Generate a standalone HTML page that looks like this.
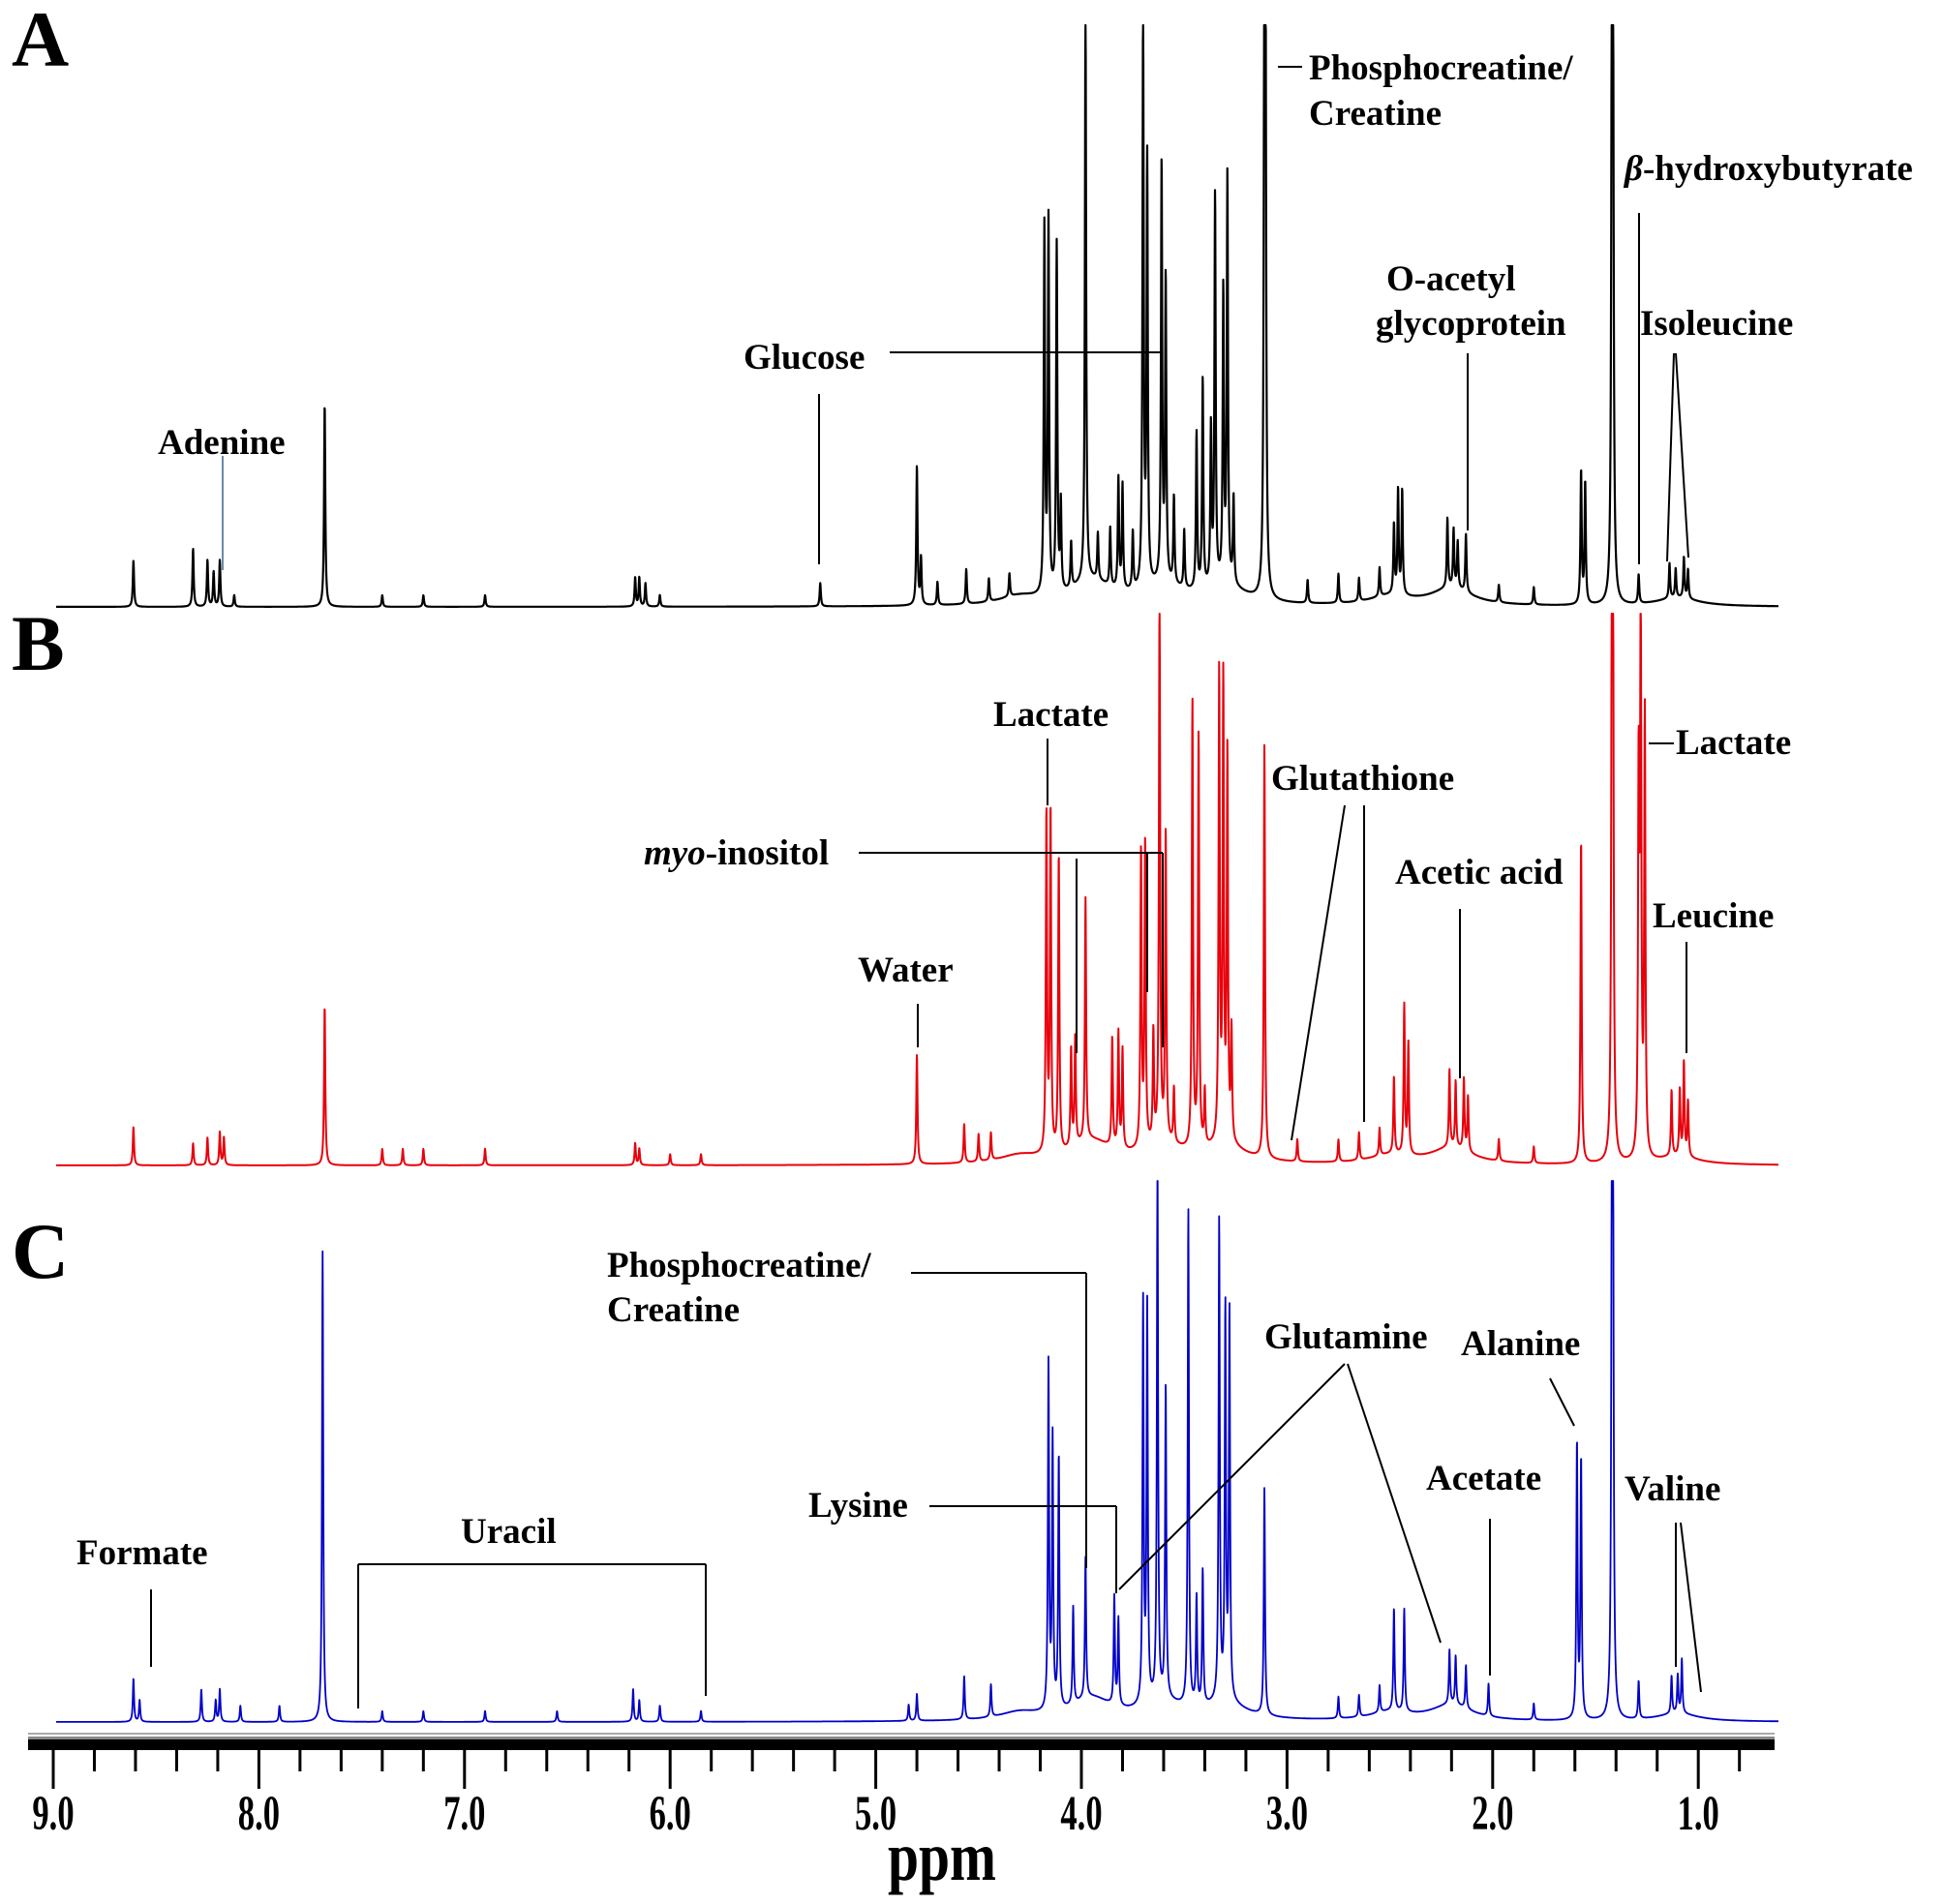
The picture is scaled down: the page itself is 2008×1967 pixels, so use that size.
<!DOCTYPE html>
<html><head><meta charset="utf-8"><style>
html,body{margin:0;padding:0;background:#fff}
svg{display:block}
text{font-family:"Liberation Serif",serif;font-weight:bold}
</style></head><body>
<svg id="fig" width="2008" height="1967" viewBox="0 0 2008 1967" xmlns="http://www.w3.org/2000/svg">
<g id="labels" font-size="38" fill="#000">
<text x="12" y="68" font-size="82">A</text>
<text x="12" y="692" font-size="82">B</text>
<text x="12" y="1320" font-size="82">C</text>
</g>
<g id="spectra"></g>
<g id="axis"></g>
<g id="ann" stroke="#000" stroke-width="2" fill="none"></g>
</svg>
<script>
// ---- data: peak positions (ppm) and relative heights (fraction of panel height) ----
const ppmA = [8.61,8.32,8.25,8.22,8.19,8.12,7.68,7.40,7.20,6.90,6.17,6.15,6.12,6.05,5.27,4.80,4.78,4.70,4.56,4.45,4.35,4.18,4.16,4.12,4.10,4.05,3.98,3.92,3.86,3.82,3.80,3.75,3.70,3.68,3.61,3.59,3.55,3.50,3.44,3.41,3.37,3.35,3.31,3.29,3.26,3.11,3.105,2.90,2.75,2.65,2.55,2.48,2.46,2.44,2.22,2.19,2.17,2.13,1.97,1.80,1.57,1.55,1.42,1.415,1.29,1.14,1.11,1.07,1.05];
const hA   = [0.08,0.10,0.08,0.06,0.08,0.02,0.35,0.02,0.02,0.02,0.05,0.05,0.04,0.02,0.04,0.24,0.08,0.04,0.06,0.04,0.04,0.63,0.64,0.60,0.15,0.08,1.0,0.08,0.10,0.19,0.18,0.10,1.0,0.73,0.72,0.52,0.15,0.10,0.27,0.36,0.27,0.67,0.50,0.70,0.15,1.0,1.0,0.04,0.05,0.04,0.05,0.12,0.18,0.18,0.12,0.10,0.08,0.10,0.03,0.03,0.23,0.21,1.0,1.0,0.05,0.06,0.05,0.07,0.05];
const ppmB = [8.61,8.32,8.25,8.19,8.17,7.68,7.40,7.30,7.20,6.90,6.17,6.15,6.00,5.85,4.80,4.57,4.50,4.44,4.17,4.15,4.11,4.05,4.03,3.98,3.85,3.82,3.80,3.71,3.69,3.65,3.62,3.59,3.55,3.46,3.43,3.40,3.33,3.31,3.29,3.27,3.11,2.95,2.75,2.65,2.55,2.48,2.43,2.41,2.21,2.18,2.14,2.12,1.97,1.80,1.57,1.42,1.415,1.29,1.28,1.26,1.13,1.09,1.07,1.05];
const hB   = [0.07,0.04,0.05,0.06,0.05,0.29,0.03,0.03,0.03,0.03,0.04,0.03,0.02,0.02,0.20,0.07,0.05,0.05,0.62,0.62,0.54,0.18,0.20,0.44,0.20,0.21,0.18,0.54,0.55,0.20,1.0,0.56,0.10,0.81,0.75,0.10,0.85,0.83,0.70,0.20,0.75,0.04,0.04,0.05,0.05,0.14,0.27,0.20,0.14,0.12,0.13,0.10,0.04,0.03,0.59,1.0,1.0,0.68,1.0,0.80,0.12,0.12,0.17,0.10];
const ppmC = [8.61,8.58,8.28,8.21,8.19,8.09,7.90,7.69,7.40,7.20,6.90,6.55,6.18,6.15,6.05,5.85,4.84,4.80,4.57,4.44,4.16,4.14,4.11,4.04,3.98,3.84,3.82,3.70,3.68,3.63,3.59,3.48,3.44,3.41,3.33,3.30,3.28,3.11,2.75,2.65,2.55,2.48,2.43,2.21,2.18,2.13,2.02,1.80,1.59,1.57,1.42,1.415,1.29,1.13,1.10,1.08];
const hC   = [0.08,0.04,0.06,0.04,0.06,0.03,0.03,0.87,0.02,0.02,0.02,0.02,0.06,0.04,0.03,0.02,0.03,0.05,0.08,0.06,0.64,0.50,0.47,0.18,0.26,0.20,0.16,0.74,0.73,1.0,0.58,0.92,0.20,0.25,0.89,0.72,0.72,0.42,0.04,0.04,0.05,0.19,0.19,0.10,0.09,0.08,0.06,0.03,0.51,0.48,1.0,1.0,0.07,0.07,0.07,0.10];
// broad background humps
const humpPpm = [4.30,3.95,3.60,3.30,2.50,2.20,1.10];
const humpH   = [0.015,0.04,0.03,0.03,0.015,0.03,0.015];

const X0=55, PX=212.4;
function xOf(p){return X0+(9-p)*PX;}
const NS='http://www.w3.org/2000/svg';
const panels=[
 {ppm:ppmA,h:hA,base:627,top:26,color:'#000',sw:2.2,name:'spectrum-a'},
 {ppm:ppmB,h:hB,base:1204,top:634,color:'#e8000b',sw:2,name:'spectrum-b'},
 {ppm:ppmC,h:hC,base:1779,top:1220,color:'#0000c8',sw:1.8,name:'spectrum-c'}
];
const g=document.getElementById('spectra');
const W=0.0035;
panels.forEach(pn=>{
  const H=pn.base-pn.top; let d='';
  for(let x=58;x<=1837;x+=0.25){
    const p=9-(x-X0)/PX; let s=0;
    for(let i=0;i<pn.ppm.length;i++){const u=(p-pn.ppm[i])/W; s+=pn.h[i]/(1+u*u);}
    for(let i=0;i<humpPpm.length;i++){const u=(p-humpPpm[i])/0.12; s+=humpH[i]/(1+u*u);}
    let y=pn.base-Math.min(s,1.0)*H;
    d+=(d?'L':'M')+x.toFixed(2)+' '+y.toFixed(1);
  }
  const path=document.createElementNS(NS,'path');
  path.setAttribute('d',d);path.setAttribute('fill','none');
  path.setAttribute('stroke',pn.color);path.setAttribute('stroke-width',pn.sw);
  path.setAttribute('stroke-linejoin','round');
  
  
  g.appendChild(path);
});
// axis
const ax=document.getElementById('axis');
const tickLabels=['9.0','8.0','7.0','6.0','5.0','4.0','3.0','2.0','1.0'];
let a='<line x1="29" y1="1791" x2="1833" y2="1791" stroke="#aaa" stroke-width="2"/>';
a+='<rect x="29" y="1797" width="1804" height="11" fill="#000"/>';
a+='<rect x="29" y="1794" width="1804" height="3" fill="#888"/>';
for(let k=0;k<=41;k++){
  const p=9.0-k*0.2; if(p<0.75) break;
  const x=xOf(p); const major=Math.abs(p-Math.round(p))<1e-6;
  a+='<line x1="'+x+'" y1="1806" x2="'+x+'" y2="'+(major?1848:1830)+'" stroke="#000" stroke-width="3"/>';
}
ax.innerHTML=a;
tickLabels.forEach(t=>{
  const tx=document.createElementNS(NS,'text');
  const x=xOf(parseFloat(t));
  tx.setAttribute('x',0);tx.setAttribute('y',0);
  tx.setAttribute('transform','translate('+x+',1890) scale(0.72,1.05)');
  tx.setAttribute('text-anchor','middle');tx.setAttribute('font-size','48');
  tx.textContent=t;
  
  
  ax.appendChild(tx);
});
const xt=document.createElementNS(NS,'text');
xt.setAttribute('transform','translate(973,1942) scale(0.8,1)');
xt.setAttribute('text-anchor','middle');xt.setAttribute('font-size','72');
xt.textContent='ppm';


ax.appendChild(xt);
</script>
<svg style="position:absolute;left:0;top:0" width="2008" height="1967">
<g stroke="#000" stroke-width="2" fill="none">
<line x1="230" y1="471" x2="230" y2="589" stroke="#6a8aaa"/>
<line x1="846" y1="407" x2="846" y2="583"/>
<line x1="919" y1="364" x2="1199" y2="364"/>
<line x1="1320" y1="69" x2="1345" y2="69"/>
<line x1="1693" y1="220" x2="1693" y2="583"/>
<line x1="1516" y1="365" x2="1516" y2="548"/>
<line x1="1729" y1="365" x2="1722" y2="580"/>
<line x1="1731" y1="365" x2="1744" y2="576"/>
<line x1="1082" y1="763" x2="1082" y2="832"/>
<line x1="887" y1="881" x2="1201" y2="881"/>
<line x1="1201" y1="881" x2="1201" y2="1082"/>
<line x1="1112" y1="887" x2="1112" y2="1088"/>
<line x1="1185" y1="881" x2="1185" y2="1025"/>
<line x1="948" y1="1037" x2="948" y2="1082"/>
<line x1="1389" y1="832" x2="1334" y2="1178"/>
<line x1="1409" y1="832" x2="1409" y2="1159"/>
<line x1="1508" y1="939" x2="1508" y2="1114"/>
<line x1="1703" y1="768" x2="1729" y2="768"/>
<line x1="1742" y1="973" x2="1742" y2="1088"/>
<line x1="941" y1="1315" x2="1122" y2="1315"/>
<line x1="1122" y1="1315" x2="1122" y2="1620"/>
<line x1="156" y1="1642" x2="156" y2="1722"/>
<line x1="370" y1="1616" x2="729" y2="1616"/>
<line x1="370" y1="1616" x2="370" y2="1765"/>
<line x1="729" y1="1616" x2="729" y2="1752"/>
<line x1="960" y1="1556" x2="1153" y2="1556"/>
<line x1="1153" y1="1556" x2="1153" y2="1646"/>
<line x1="1389" y1="1409" x2="1156" y2="1642"/>
<line x1="1392" y1="1409" x2="1488" y2="1697"/>
<line x1="1601" y1="1424" x2="1626" y2="1473"/>
<line x1="1539" y1="1569" x2="1539" y2="1731"/>
<line x1="1731" y1="1573" x2="1731" y2="1722"/>
<line x1="1736" y1="1573" x2="1757" y2="1748"/>
</g>
<g font-family="Liberation Serif, serif" font-weight="bold" font-size="37" fill="#000">
<text x="163" y="469">Adenine</text>
<text x="768" y="381">Glucose</text>
<text x="1352" y="82">Phosphocreatine/</text>
<text x="1352" y="129">Creatine</text>
<text x="1678" y="186"><tspan font-style="italic">β</tspan>-hydroxybutyrate</text>
<text x="1432" y="300">O-acetyl</text>
<text x="1421" y="346">glycoprotein</text>
<text x="1694" y="346">Isoleucine</text>
<text x="1026" y="750">Lactate</text>
<text x="665" y="893"><tspan font-style="italic">myo</tspan>-inositol</text>
<text x="886" y="1014">Water</text>
<text x="1313" y="816">Glutathione</text>
<text x="1441" y="913">Acetic acid</text>
<text x="1731" y="779">Lactate</text>
<text x="1707" y="958">Leucine</text>
<text x="627" y="1319">Phosphocreatine/</text>
<text x="627" y="1365">Creatine</text>
<text x="79" y="1616">Formate</text>
<text x="476" y="1594">Uracil</text>
<text x="835" y="1567">Lysine</text>
<text x="1306" y="1393">Glutamine</text>
<text x="1509" y="1400">Alanine</text>
<text x="1473" y="1539">Acetate</text>
<text x="1678" y="1550">Valine</text>
</g>
</svg>
</body></html>
